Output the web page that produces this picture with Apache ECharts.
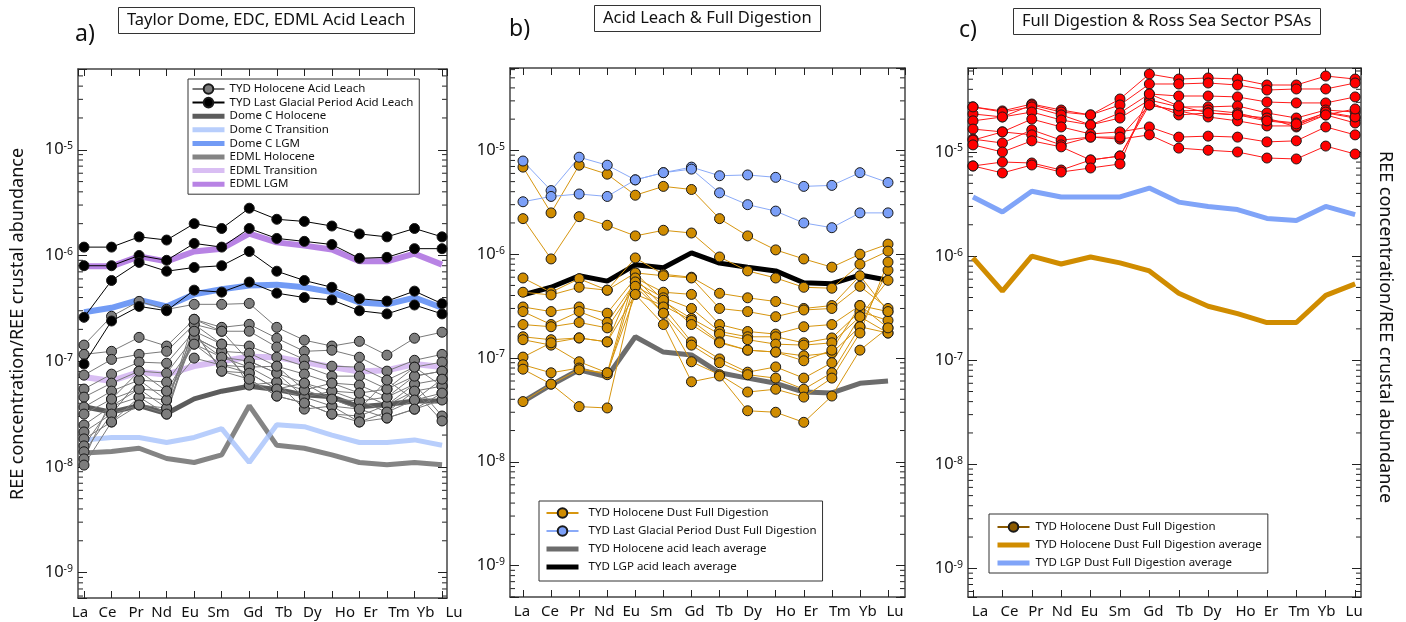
<!DOCTYPE html>
<html>
<head>
<meta charset="utf-8">
<script src="https://cdn.jsdelivr.net/npm/echarts@6.0.0/dist/echarts.min.js"></script>
<style>
html, body { margin: 0; padding: 0; background: #fff; }
#chart { width: 1406px; height: 622px; }
</style>
</head>
<body>
<div id="chart"></div>
<script>
var elements = ['La', 'Ce', 'Pr', 'Nd', 'Eu', 'Sm', 'Gd', 'Tb', 'Dy', 'Ho', 'Er', 'Tm', 'Yb', 'Lu'];

// a) Taylor Dome acid leach samples
var tydHoloLeach = [
    [1.42e-7, 2.66e-7, 3.68e-7, 3.09e-7, 3.45e-7, 3.45e-7, 3.52e-7, 2.09e-7, 1.58e-7, 1.39e-7, 1.54e-7, 1.14e-7, 1.65e-7, 1.88e-7],
    [1.16e-7, 1.24e-7, 1.68e-7, 1.39e-7, 2.49e-7, 2.09e-7, 2.23e-7, 1.65e-7, 1.24e-7, 1.27e-7, 1.09e-7, 8.05e-8, 1.02e-7, 1.16e-7],
    [7.38e-8, 1.04e-7, 1.16e-7, 1.24e-7, 2.23e-7, 1.92e-7, 1.92e-7, 1.36e-7, 1.04e-7, 8.97e-8, 8.78e-8, 6.62e-8, 8.78e-8, 9.8e-8],
    [5.45e-8, 7.54e-8, 9.8e-8, 9.57e-8, 1.92e-7, 1.45e-7, 1.39e-7, 1.09e-7, 8.97e-8, 7.22e-8, 7.22e-8, 5.45e-8, 7.22e-8, 8.05e-8],
    [4.57e-8, 6.2e-8, 8.05e-8, 7.7e-8, 1.68e-7, 1.24e-7, 1.19e-7, 8.97e-8, 7.54e-8, 6.2e-8, 5.94e-8, 4.57e-8, 6.07e-8, 6.76e-8],
    [3.68e-8, 5.21e-8, 6.62e-8, 6.34e-8, 1.45e-7, 1.09e-7, 1.0e-7, 7.7e-8, 6.2e-8, 5.21e-8, 4.99e-8, 3.85e-8, 5.21e-8, 5.81e-8],
    [3.16e-8, 4.38e-8, 5.45e-8, 5.21e-8, 1.07e-7, 9.17e-8, 8.78e-8, 6.34e-8, 5.33e-8, 4.38e-8, 4.2e-8, 3.3e-8, 4.29e-8, 4.99e-8],
    [2.49e-8, 3.76e-8, 4.57e-8, 4.29e-8, 1.92e-7, 8.05e-8, 7.7e-8, 5.45e-8, 4.57e-8, 3.76e-8, 3.52e-8, 2.9e-8, 3.52e-8, 4.29e-8],
    [2.14e-8, 3.16e-8, 3.85e-8, 3.6e-8, 1.68e-7, 1.24e-7, 6.76e-8, 4.68e-8, 4.02e-8, 3.16e-8, 3.03e-8, 3.85e-8, 6.07e-8, 3.03e-8],
    [1.84e-8, 2.66e-8, 4.57e-8, 3.16e-8, 2.23e-7, 1.45e-7, 5.94e-8, 6.34e-8, 3.52e-8, 3.76e-8, 2.66e-8, 3.3e-8, 5.21e-8, 2.72e-8],
    [1.58e-8, 3.76e-8, 5.45e-8, 3.6e-8, 2.49e-7, 1.92e-7, 1.0e-7, 7.7e-8, 4.57e-8, 5.21e-8, 4.2e-8, 4.57e-8, 7.22e-8, 8.05e-8],
    [1.39e-8, 3.16e-8, 6.62e-8, 4.29e-8, 1.68e-7, 1.09e-7, 8.78e-8, 8.97e-8, 5.33e-8, 6.2e-8, 4.99e-8, 5.45e-8, 8.78e-8, 5.81e-8],
    [1.19e-8, 4.38e-8, 8.05e-8, 5.21e-8, 1.45e-7, 9.17e-8, 7.7e-8, 5.45e-8, 6.2e-8, 4.38e-8, 3.52e-8, 6.62e-8, 4.29e-8, 6.76e-8],
    [1.04e-8, 2.66e-8, 3.85e-8, 3.16e-8, 1.92e-7, 8.05e-8, 6.76e-8, 4.68e-8, 4.02e-8, 3.16e-8, 2.66e-8, 2.9e-8, 3.52e-8, 4.99e-8]
];
var tydLgpLeach = [
    [1.2e-6, 1.2e-6, 1.5e-6, 1.4e-6, 2.0e-6, 1.8e-6, 2.8e-6, 2.2e-6, 2.1e-6, 1.9e-6, 1.6e-6, 1.5e-6, 1.8e-6, 1.5e-6],
    [8.0e-7, 8.0e-7, 1.0e-6, 9.0e-7, 1.3e-6, 1.2e-6, 1.8e-6, 1.45e-6, 1.36e-6, 1.27e-6, 9.4e-7, 9.6e-7, 1.16e-6, 1.16e-6],
    [2.6e-7, 5.8e-7, 8.6e-7, 7.1e-7, 7.7e-7, 8.0e-7, 1.09e-6, 7.1e-7, 5.8e-7, 5.0e-7, 3.9e-7, 3.7e-7, 4.6e-7, 3.5e-7],
    [9.4e-8, 2.4e-7, 3.3e-7, 3.0e-7, 4.7e-7, 4.5e-7, 5.6e-7, 4.4e-7, 4.0e-7, 3.8e-7, 3.0e-7, 2.8e-7, 3.4e-7, 2.8e-7]
];
var domeCHolocene = [3.7e-8, 3.3e-8, 3.8e-8, 3.2e-8, 4.4e-8, 5.2e-8, 5.8e-8, 5.4e-8, 4.8e-8, 4.6e-8, 3.7e-8, 3.9e-8, 4.2e-8, 4.2e-8];
var domeCTransition = [1.8e-8, 1.9e-8, 1.9e-8, 1.7e-8, 1.9e-8, 2.3e-8, 1.1e-8, 2.5e-8, 2.4e-8, 2.0e-8, 1.7e-8, 1.7e-8, 1.8e-8, 1.6e-8];
var domeCLgm = [2.9e-7, 3.2e-7, 3.8e-7, 3.3e-7, 4.3e-7, 4.8e-7, 5.2e-7, 5.3e-7, 5.0e-7, 4.5e-7, 3.6e-7, 3.45e-7, 4.0e-7, 3.2e-7];
var edmlHolocene = [1.35e-8, 1.4e-8, 1.5e-8, 1.2e-8, 1.1e-8, 1.3e-8, 3.8e-8, 1.6e-8, 1.5e-8, 1.3e-8, 1.1e-8, 1.05e-8, 1.1e-8, 1.05e-8];
var edmlTransition = [7.1e-8, 6.5e-8, 7.9e-8, 7.5e-8, 9.0e-8, 1.0e-7, 1.1e-7, 1.09e-7, 9.8e-8, 8.8e-8, 8.0e-8, 8.2e-8, 9.4e-8, 8.8e-8];
var edmlLgm = [7.9e-7, 7.9e-7, 9.8e-7, 8.8e-7, 1.09e-6, 1.16e-6, 1.61e-6, 1.33e-6, 1.24e-6, 1.14e-6, 8.8e-7, 8.8e-7, 1.04e-6, 8.2e-7];

// b) full digestion samples and acid leach averages
var tydHoloFull = [
    [6.9e-6, 2.5e-6, 7.2e-6, 5.9e-6, 3.7e-6, 4.5e-6, 4.2e-6, 2.2e-6, 1.5e-6, 1.1e-6, 9.0e-7, 7.5e-7, 1.0e-6, 1.25e-6],
    [2.2e-6, 9.0e-7, 2.3e-6, 1.9e-6, 1.5e-6, 1.7e-6, 1.6e-6, 9.4e-7, 6.9e-7, 5.9e-7, 4.8e-7, 4.7e-7, 8.0e-7, 1.07e-6],
    [5.9e-7, 4.3e-7, 5.8e-7, 4.5e-7, 9.2e-7, 6.4e-7, 6.0e-7, 4.2e-7, 3.8e-7, 3.5e-7, 3.0e-7, 3.2e-7, 6.2e-7, 2.8e-7],
    [4.3e-7, 4.05e-7, 4.8e-7, 4.5e-7, 6.6e-7, 6.2e-7, 5.9e-7, 3.0e-7, 2.8e-7, 2.5e-7, 2.9e-7, 3.0e-7, 4.9e-7, 3.0e-7],
    [3.1e-7, 2.8e-7, 3.1e-7, 2.7e-7, 5.9e-7, 4.3e-7, 4.1e-7, 2.1e-7, 1.8e-7, 1.7e-7, 2.0e-7, 2.1e-7, 3.2e-7, 1.95e-7],
    [2.8e-7, 2.1e-7, 2.8e-7, 2.2e-7, 5.4e-7, 3.8e-7, 3.0e-7, 1.8e-7, 1.6e-7, 1.6e-7, 1.4e-7, 1.56e-7, 2.8e-7, 2.3e-7],
    [2.1e-7, 2.0e-7, 2.2e-7, 1.95e-7, 4.9e-7, 3.5e-7, 2.4e-7, 1.7e-7, 1.5e-7, 1.36e-7, 1.33e-7, 1.4e-7, 2.5e-7, 1.74e-7],
    [1.6e-7, 1.5e-7, 1.56e-7, 1.43e-7, 4.1e-7, 3.2e-7, 2.3e-7, 1.43e-7, 1.19e-7, 1.14e-7, 1.05e-7, 1.12e-7, 2.0e-7, 1.74e-7],
    [1.5e-7, 1.33e-7, 9.2e-8, 7.2e-8, 6.6e-7, 3.6e-7, 2.1e-7, 1.4e-7, 1.19e-7, 1.14e-7, 9.4e-8, 1.19e-7, 3.2e-7, 2.8e-7],
    [1.02e-7, 1.4e-7, 1.56e-7, 1.43e-7, 5.9e-7, 3.1e-7, 1.43e-7, 9.8e-8, 7.3e-8, 8.2e-8, 6.4e-8, 9.0e-8, 2.5e-7, 5.6e-7],
    [8.6e-8, 7.2e-8, 8.0e-8, 6.9e-8, 5.4e-7, 2.7e-7, 1.33e-7, 9.0e-8, 6.9e-8, 6.4e-8, 5.0e-8, 7.2e-8, 2.0e-7, 7.0e-7],
    [7.8e-8, 5.6e-8, 3.4e-8, 3.3e-8, 4.9e-7, 2.7e-7, 9.2e-8, 6.9e-8, 4.7e-8, 5.0e-8, 4.2e-8, 6.4e-8, 1.74e-7, 8.4e-7],
    [3.8e-8, 5.6e-8, 7.7e-8, 7.2e-8, 4.1e-7, 2.1e-7, 5.9e-8, 6.7e-8, 3.1e-8, 3.0e-8, 2.4e-8, 4.3e-8, 1.19e-7, 1.95e-7]
];
var tydLgpFull = [
    [7.9e-6, 4.1e-6, 8.6e-6, 7.2e-6, 5.2e-6, 6.1e-6, 6.9e-6, 5.7e-6, 5.8e-6, 5.5e-6, 4.5e-6, 4.6e-6, 6.1e-6, 4.9e-6],
    [3.2e-6, 3.6e-6, 3.8e-6, 3.6e-6, 5.2e-6, 6.1e-6, 6.6e-6, 3.9e-6, 3.0e-6, 2.6e-6, 2.0e-6, 1.8e-6, 2.5e-6, 2.5e-6]
];
var holoLeachAvg = [3.8e-8, 5.5e-8, 7.7e-8, 6.6e-8, 1.6e-7, 1.14e-7, 1.07e-7, 7.2e-8, 6.4e-8, 5.7e-8, 4.7e-8, 4.6e-8, 5.7e-8, 6.0e-8];
var lgpLeachAvg = [4.05e-7, 4.8e-7, 6.2e-7, 5.5e-7, 7.9e-7, 7.4e-7, 1.03e-6, 8.2e-7, 7.5e-7, 6.9e-7, 5.3e-7, 5.2e-7, 6.3e-7, 5.6e-7];

// c) Ross Sea sector PSAs and full digestion averages
var rossSeaPsa = [
    [2.71e-5, 2.48e-5, 2.89e-5, 2.53e-5, 2.27e-5, 3.23e-5, 5.61e-5, 5.02e-5, 5.14e-5, 5.02e-5, 4.40e-5, 4.40e-5, 5.37e-5, 5.02e-5],
    [2.32e-5, 2.17e-5, 2.83e-5, 2.42e-5, 2.27e-5, 2.83e-5, 4.50e-5, 4.50e-5, 4.60e-5, 4.40e-5, 3.94e-5, 4.03e-5, 4.03e-5, 4.60e-5],
    [2.71e-5, 2.42e-5, 2.71e-5, 2.27e-5, 1.82e-5, 2.37e-5, 3.61e-5, 3.45e-5, 3.45e-5, 3.38e-5, 3.02e-5, 2.96e-5, 2.96e-5, 3.38e-5],
    [1.99e-5, 2.17e-5, 2.42e-5, 2.03e-5, 1.82e-5, 2.12e-5, 3.16e-5, 2.71e-5, 2.71e-5, 2.77e-5, 2.37e-5, 2.12e-5, 2.53e-5, 2.42e-5],
    [1.66e-5, 1.56e-5, 2.07e-5, 1.74e-5, 1.49e-5, 1.56e-5, 1.74e-5, 1.39e-5, 1.42e-5, 1.39e-5, 1.25e-5, 1.28e-5, 1.74e-5, 1.46e-5],
    [1.33e-5, 1.22e-5, 1.63e-5, 1.30e-5, 1.39e-5, 1.33e-5, 1.46e-5, 1.09e-5, 1.04e-5, 1.00e-5, 8.75e-6, 8.57e-6, 1.14e-5, 9.56e-6],
    [1.30e-5, 1.56e-5, 1.46e-5, 1.17e-5, 1.39e-5, 1.39e-5, 2.83e-5, 2.48e-5, 2.53e-5, 2.37e-5, 2.03e-5, 1.90e-5, 2.37e-5, 2.12e-5],
    [1.17e-5, 1.00e-5, 1.28e-5, 1.12e-5, 8.38e-6, 9.15e-6, 3.02e-5, 2.27e-5, 2.37e-5, 2.27e-5, 2.12e-5, 1.74e-5, 2.27e-5, 1.90e-5],
    [7.34e-6, 8.01e-6, 7.84e-6, 6.71e-6, 8.38e-6, 9.15e-6, 2.83e-5, 2.48e-5, 2.17e-5, 1.99e-5, 1.78e-5, 1.78e-5, 2.42e-5, 2.17e-5],
    [7.34e-6, 6.29e-6, 7.50e-6, 6.42e-6, 7.02e-6, 7.67e-6, 3.61e-5, 2.77e-5, 2.37e-5, 2.27e-5, 1.99e-5, 1.86e-5, 2.27e-5, 2.59e-5]
];
var holoFullAvg = [9.6e-7, 4.6e-7, 1.0e-6, 8.4e-7, 9.8e-7, 8.6e-7, 7.2e-7, 4.4e-7, 3.3e-7, 2.8e-7, 2.3e-7, 2.3e-7, 4.2e-7, 5.4e-7];
var lgpFullAvg = [3.7e-6, 2.65e-6, 4.2e-6, 3.7e-6, 3.7e-6, 3.7e-6, 4.5e-6, 3.3e-6, 3.0e-6, 2.8e-6, 2.3e-6, 2.2e-6, 3.0e-6, 2.5e-6];

var minorSteps = [2, 3, 4, 5, 6, 7, 8, 9];

// layout
var FONT = 'Noto Sans';
var grids = [
    { left: 78, top: 69, width: 369, height: 529 },
    { left: 510, top: 68, width: 395, height: 529 },
    { left: 968, top: 68, width: 393, height: 529 }
];
var xRanges = [[-0.218, 13.18], [-0.463, 13.605], [-0.17, 13.2]];
var yRanges = [[5.75e-10, 5.81e-5], [4.98e-10, 6.22e-5], [5.31e-10, 6.41e-5]];
// element labels sit a little off their ticks in the original (px, + = right)
var labelShift = [
    [-4, -4, -3, -5, -4, -3, 4, 7, 8, 13, 11, 12, 11, 12],
    [-1, -1, -2, -3, -4, -2, 3, 5, 5, 10, 7, 8, 8, 7],
    [7, 7, 4, 1, -1, 0, 4, 6, 4, 8, 4, 3, 1, -1]
];

var chart = echarts.init(document.getElementById('chart'));

function powLabel(v) {
    var e = Math.log10(v);
    var r = Math.round(e);
    if (Math.abs(e - r) > 1e-6) return '';
    return '{b|10}{s|' + r + '}';
}

function elementRich(i) {
    var rich = {};
    labelShift[i].forEach(function (d, k) {
        rich['e' + k] = {
            fontSize: 15, fontFamily: FONT, color: '#111',
            padding: [0, d < 0 ? -2 * d : 0, 0, d > 0 ? 2 * d : 0]
        };
    });
    return rich;
}

var xAxes = [], yAxes = [];
grids.forEach(function (g, i) {
    [false, true].forEach(function (top) {
        xAxes.push({
            gridIndex: i, type: 'value', position: top ? 'top' : 'bottom',
            min: xRanges[i][0], max: xRanges[i][1], minInterval: 1, maxInterval: 1,
            axisLine: { show: true, onZero: false, lineStyle: { color: '#444', width: 1.5 } },
            axisTick: { show: true, inside: true, length: 7, lineStyle: { color: '#222' } },
            axisLabel: {
                show: !top, fontSize: 15, fontFamily: FONT, color: '#111', margin: 7,
                showMinLabel: false, showMaxLabel: false, rich: elementRich(i),
                formatter: function (v) {
                    return (Number.isInteger(v) && elements[v]) ? '{e' + v + '|' + elements[v] + '}' : '';
                }
            },
            splitLine: { show: false }
        });
        yAxes.push({
            gridIndex: i, type: 'log', logBase: 10, position: top ? 'right' : 'left',
            min: yRanges[i][0], max: yRanges[i][1],
            axisLine: { show: true, onZero: false, lineStyle: { color: '#444', width: 1.5 } },
            axisTick: { show: true, inside: true, length: 9, lineStyle: { color: '#222' } },
            axisLabel: {
                show: !top, margin: 5, formatter: powLabel,
                rich: {
                    b: { fontSize: 16.5, fontFamily: FONT, color: '#111', lineHeight: 18 },
                    s: { fontSize: 10.5, fontFamily: FONT, color: '#111', verticalAlign: 'top', lineHeight: 10 }
                }
            },
            splitLine: { show: false }
        });
    });
});

function line(g, name, vals, st) {
    return {
        type: 'line', name: name, xAxisIndex: 2 * g, yAxisIndex: 2 * g,
        data: vals.map(function (v, i) { return [i, v]; }),
        symbol: st.dot ? 'circle' : 'none', symbolSize: 10, showSymbol: !!st.dot,
        lineStyle: { color: st.line, width: st.width, opacity: st.opacity || 1 },
        itemStyle: { color: st.fill || st.line, borderColor: '#1a1a1a', borderWidth: st.dot ? 1 : 0 },
        z: st.z || 2, silent: true, animation: false
    };
}

var series = [];
// panel a
series.push(line(0, 'EDML LGM', edmlLgm, { line: '#9a4fd8', width: 6, opacity: 0.7 }));
series.push(line(0, 'EDML Transition', edmlTransition, { line: '#c9a3ee', width: 6, opacity: 0.7 }));
series.push(line(0, 'EDML Holocene', edmlHolocene, { line: '#6e6e6e', width: 5, opacity: 0.85 }));
series.push(line(0, 'Dome C LGM', domeCLgm, { line: '#4f82f2', width: 6, opacity: 0.8 }));
series.push(line(0, 'Dome C Transition', domeCTransition, { line: '#a6c2fb', width: 5, opacity: 0.8 }));
series.push(line(0, 'Dome C Holocene', domeCHolocene, { line: '#4a4a4a', width: 5, opacity: 0.9 }));
tydHoloLeach.forEach(function (d) {
    series.push(line(0, 'TYD Holocene Acid Leach', d, { dot: true, line: '#7a7a7a', fill: '#7d7d7d', width: 1, z: 3 }));
});
tydLgpLeach.forEach(function (d) {
    series.push(line(0, 'TYD Last Glacial Period Acid Leach', d, { dot: true, line: '#000', fill: '#000', width: 1, z: 4 }));
});
// panel b
series.push(line(1, 'TYD Holocene acid leach average', holoLeachAvg, { line: '#6c6c6c', width: 5 }));
series.push(line(1, 'TYD LGP acid leach average', lgpLeachAvg, { line: '#000', width: 5 }));
tydHoloFull.forEach(function (d) {
    series.push(line(1, 'TYD Holocene Dust Full Digestion', d, { dot: true, line: '#d7960f', fill: '#d08c00', width: 1, z: 3 }));
});
tydLgpFull.forEach(function (d) {
    series.push(line(1, 'TYD Last Glacial Period Dust Full Digestion', d, { dot: true, line: '#8aaaf8', fill: '#7b9ff7', width: 1, z: 3 }));
});
// panel c
series.push(line(2, 'TYD Holocene Dust Full Digestion ', [], { dot: true, line: '#8b5a00', fill: '#8b5a00', width: 1 }));
series.push(line(2, 'TYD Holocene Dust Full Digestion average', holoFullAvg, { line: '#d08c00', width: 5 }));
series.push(line(2, 'TYD LGP Dust Full Digestion average', lgpFullAvg, { line: '#80a4f8', width: 5 }));
rossSeaPsa.forEach(function (d) {
    series.push(line(2, 'Ross Sea Sector PSAs', d, { dot: true, line: '#ff1a1a', fill: '#ff0000', width: 1, z: 3 }));
});

// thick-line legend entries: bar only, no marker
function bar(name) {
    return { name: name, itemStyle: { color: 'rgba(0,0,0,0)', borderWidth: 0, opacity: 0 }, lineStyle: { width: 5 } };
}

function legend(left, top, names, pad, gap, textPad) {
    return {
        left: left, top: top, orient: 'vertical', data: names, selectedMode: false,
        itemWidth: 32, itemHeight: 12, itemGap: gap, padding: pad,
        backgroundColor: '#fff', borderColor: '#333', borderWidth: 1, borderRadius: 0,
        textStyle: { fontSize: 11.5, fontFamily: FONT, color: '#111', lineHeight: 12, padding: [0, 0, 0, textPad] }
    };
}

function boxTitle(text, left, top) {
    return {
        text: text, left: left, top: top, padding: [5, 9, 5, 9],
        borderWidth: 1, borderColor: '#333',
        textStyle: { fontSize: 16.5, fontWeight: 'normal', fontFamily: FONT, color: '#111' }
    };
}
function letter(text, left, top) {
    return { text: text, left: left, top: top, padding: 0, textStyle: { fontSize: 23, fontWeight: 'normal', fontFamily: FONT, color: '#111' } };
}

chart.setOption({
    animation: false,
    backgroundColor: '#fff',
    title: [
        boxTitle('Taylor Dome, EDC, EDML Acid Leach', 118, 7),
        boxTitle('Acid Leach & Full Digestion', 594, 5),
        boxTitle('Full Digestion & Ross Sea Sector PSAs', 1013, 8),
        letter('a)', 75, 23), letter('b)', 509, 18), letter('c)', 959, 19)
    ],
    legend: [
        legend(188, 79, ['TYD Holocene Acid Leach', 'TYD Last Glacial Period Acid Leach', bar('Dome C Holocene'),
            bar('Dome C Transition'), bar('Dome C LGM'), bar('EDML Holocene'), bar('EDML Transition'), bar('EDML LGM')], [4, 6, 4, 2], 1.6, 0),
        legend(539, 501, ['TYD Holocene Dust Full Digestion', 'TYD Last Glacial Period Dust Full Digestion',
            bar('TYD Holocene acid leach average'), bar('TYD LGP acid leach average')], [6, 6, 8, 5], 6, 5),
        legend(989, 514, ['TYD Holocene Dust Full Digestion ', bar('TYD Holocene Dust Full Digestion average'),
            bar('TYD LGP Dust Full Digestion average')], [7, 6, 4, 6], 6, 1)
    ],
    grid: grids,
    xAxis: xAxes,
    yAxis: yAxes,
    series: series
});

// minor log ticks and the two rotated axis titles
var gfx = [
    { type: 'text', x: 18, y: 324, rotation: Math.PI / 2,
      style: { text: 'REE concentration/REE crustal abundance', fontSize: 18, fontFamily: FONT, fill: '#111', align: 'center', verticalAlign: 'middle' } },
    { type: 'text', x: 1385, y: 327, rotation: -Math.PI / 2,
      style: { text: 'REE concentration/REE crustal abundance', fontSize: 18, fontFamily: FONT, fill: '#111', align: 'center', verticalAlign: 'middle' } }
];
grids.forEach(function (g, i) {
    var x0 = g.left, x1 = g.left + g.width;
    for (var k = -10; k <= -4; k++) {
        minorSteps.forEach(function (m) {
            var v = m * Math.pow(10, k);
            if (v <= yRanges[i][0] || v >= yRanges[i][1]) return;
            var y = chart.convertToPixel({ yAxisIndex: 2 * i }, v);
            gfx.push({ type: 'line', silent: true, shape: { x1: x0, y1: y, x2: x0 + 5, y2: y }, style: { stroke: '#222', lineWidth: 1 } });
            gfx.push({ type: 'line', silent: true, shape: { x1: x1 - 5, y1: y, x2: x1, y2: y }, style: { stroke: '#222', lineWidth: 1 } });
        });
    }
});
chart.setOption({ graphic: gfx });
</script>
</body>
</html>
